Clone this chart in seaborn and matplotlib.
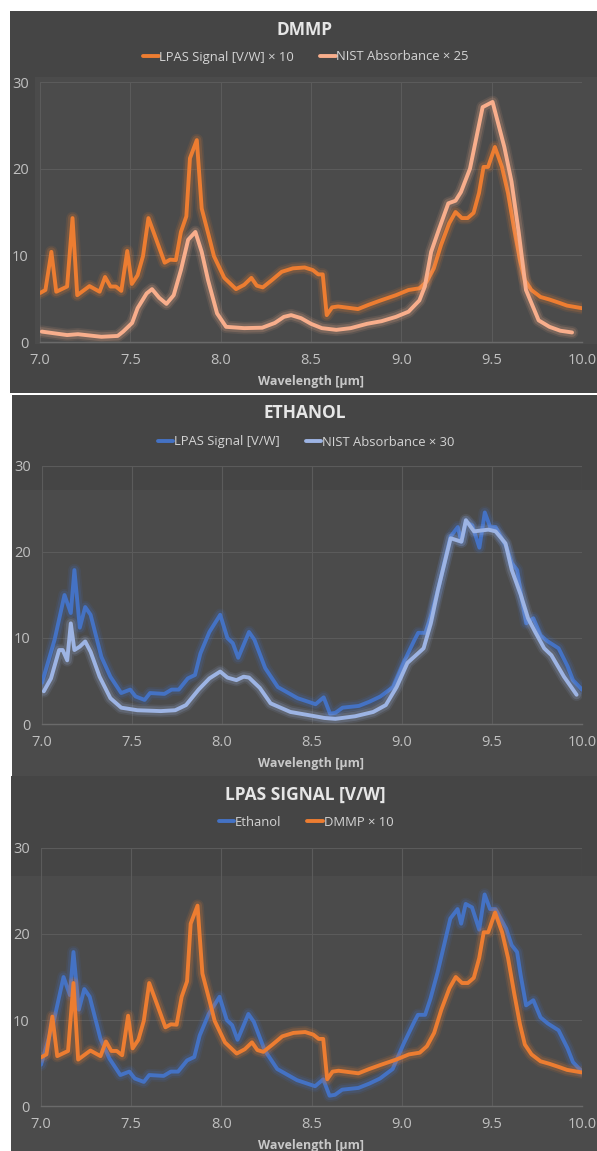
import numpy as np
import pandas as pd
import matplotlib
matplotlib.use('Agg')
import matplotlib.pyplot as plt
from matplotlib.patches import Rectangle
import seaborn as sns

# DMMP LPAS signal x 10
dmmp_lpas_x = [7.00, 7.03, 7.063, 7.09, 7.15, 7.18, 7.206, 7.274, 7.33, 7.36, 7.39, 7.42, 7.45,
               7.483, 7.508, 7.54, 7.57, 7.60, 7.63, 7.69, 7.72, 7.752, 7.78, 7.81, 7.83, 7.868,
               7.895, 7.93, 7.963, 8.02, 8.085, 8.13, 8.17, 8.20, 8.233, 8.284, 8.338, 8.40,
               8.465, 8.51, 8.54, 8.565, 8.587, 8.617, 8.65, 8.76, 8.82, 8.886, 8.97, 9.04,
               9.10, 9.14, 9.18, 9.22, 9.265, 9.30, 9.335, 9.367, 9.40, 9.43, 9.455, 9.48,
               9.518, 9.557, 9.59, 9.624, 9.656, 9.683, 9.72, 9.77, 9.82, 9.877, 9.917, 10.0]
dmmp_lpas_y = [5.65, 6.0, 10.4, 5.8, 6.4, 14.3, 5.4, 6.45, 5.8, 7.5, 6.4, 6.4, 5.9,
               10.5, 6.7, 7.7, 9.9, 14.3, 12.6, 9.15, 9.5, 9.45, 12.7, 14.5, 21.2, 23.3,
               15.4, 12.6, 9.9, 7.4, 6.1, 6.6, 7.4, 6.5, 6.3, 7.15, 8.1, 8.5,
               8.6, 8.3, 7.8, 7.8, 3.1, 4.0, 4.1, 3.8, 4.3, 4.8, 5.4, 6.0,
               6.2, 6.95, 8.5, 11.2, 13.7, 15.0, 14.3, 14.3, 14.9, 17.2, 20.2, 20.2,
               22.5, 20.2, 17.2, 13.1, 9.5, 7.15, 6.0, 5.2, 4.9, 4.5, 4.2, 3.9]

# DMMP NIST absorbance x 25
dmmp_nist_x = [7.01, 7.15, 7.21, 7.34, 7.43, 7.46, 7.51, 7.54, 7.59, 7.62, 7.66, 7.70, 7.74,
               7.78, 7.82, 7.86, 7.895, 7.93, 7.98, 8.03, 8.13, 8.23, 8.30, 8.35, 8.39, 8.445,
               8.50, 8.56, 8.64, 8.72, 8.81, 8.89, 8.97, 9.04, 9.10, 9.13, 9.165, 9.21, 9.26,
               9.30, 9.33, 9.38, 9.45, 9.505, 9.57, 9.61, 9.65, 9.69, 9.76, 9.82, 9.88, 9.945]
dmmp_nist_y = [1.2, 0.8, 0.9, 0.6, 0.7, 1.2, 2.2, 3.9, 5.6, 6.1, 5.1, 4.4, 5.4,
               8.3, 11.8, 12.7, 10.4, 7.15, 3.3, 1.75, 1.6, 1.65, 2.2, 2.9, 3.1, 2.75,
               2.1, 1.6, 1.4, 1.6, 2.1, 2.4, 2.9, 3.5, 4.8, 6.4, 10.4, 13.1, 16.0,
               16.3, 17.3, 20.0, 27.1, 27.7, 22.5, 18.5, 12.6, 6.0, 2.5, 1.75, 1.3, 1.1]

# Ethanol LPAS signal
eth_lpas_x = [7.00, 7.07, 7.125, 7.16, 7.18, 7.21, 7.24, 7.27, 7.33, 7.38, 7.44, 7.49, 7.52,
              7.57, 7.60, 7.68, 7.72, 7.76, 7.81, 7.85, 7.88, 7.93, 7.99, 8.03, 8.06, 8.09,
              8.15, 8.18, 8.24, 8.31, 8.42, 8.52, 8.565, 8.60, 8.63, 8.67, 8.76, 8.82, 8.88,
              8.95, 9.01, 9.07, 9.09, 9.13, 9.16, 9.20, 9.27, 9.31, 9.33, 9.355, 9.39, 9.43,
              9.46, 9.49, 9.52, 9.58, 9.61, 9.64, 9.66, 9.69, 9.73, 9.77, 9.81, 9.87, 9.92,
              9.95, 10.0]
eth_lpas_y = [4.8, 9.8, 15.0, 12.9, 17.9, 11.2, 13.6, 12.7, 7.8, 5.5, 3.6, 4.0, 3.2,
              2.8, 3.6, 3.5, 4.0, 4.0, 5.3, 5.7, 8.2, 10.7, 12.7, 10.0, 9.4, 7.7,
              10.7, 9.8, 6.5, 4.3, 3.0, 2.3, 3.1, 1.2, 1.3, 1.9, 2.1, 2.6, 3.2,
              4.3, 7.2, 9.8, 10.6, 10.6, 12.5, 15.6, 21.8, 22.9, 21.2, 23.5, 23.1, 20.5,
              24.6, 22.9, 22.9, 20.6, 18.7, 17.9, 15.2, 11.7, 12.3, 10.3, 9.6, 8.8, 6.7,
              5.1, 4.0]

# Ethanol NIST absorbance x 30
eth_nist_x = [7.01, 7.05, 7.095, 7.115, 7.14, 7.16, 7.18, 7.21, 7.24, 7.27, 7.32, 7.38, 7.44,
              7.53, 7.66, 7.74, 7.80, 7.87, 7.93, 7.99, 8.03, 8.08, 8.12, 8.15, 8.21, 8.27,
              8.38, 8.49, 8.57, 8.63, 8.74, 8.84, 8.91, 8.97, 9.03, 9.12, 9.16, 9.20, 9.27,
              9.33, 9.355, 9.40, 9.48, 9.52, 9.575, 9.61, 9.66, 9.70, 9.74, 9.79, 9.83, 9.90,
              9.97]
eth_nist_y = [3.8, 5.3, 8.6, 8.6, 7.4, 11.7, 8.6, 9.0, 9.6, 8.4, 5.5, 3.0, 1.9,
              1.6, 1.5, 1.6, 2.2, 4.0, 5.3, 6.1, 5.4, 5.1, 5.5, 5.4, 4.2, 2.4,
              1.4, 1.0, 0.7, 0.6, 0.9, 1.4, 2.2, 4.3, 7.1, 8.8, 11.7, 15.6, 21.6,
              21.2, 23.7, 22.4, 22.6, 22.4, 21.0, 17.9, 15.0, 12.3, 10.7, 8.8, 8.0, 5.5,
              3.4]

titles = ['DMMP', 'ETHANOL', 'LPAS SIGNAL [V/W]']
legend_labels = [['LPAS Signal [V/W] \u00d7 10', 'NIST Absorbance \u00d7 25'],
                 ['LPAS Signal [V/W]', 'NIST Absorbance \u00d7 30'],
                 ['Ethanol', 'DMMP \u00d7 10']]
x_ticks = [7.0, 7.5, 8.0, 8.5, 9.0, 9.5, 10.0]
y_ticks = [0, 10, 20, 30]

# colours
orange = '#ED7D31'
salmon = '#F8AE8C'
blue = '#4472C4'
light_blue = '#9DB4E4'
panel_bg = '#454545'
plot_bg = '#4b4b4b'
grid_col = '#5b5b5b'

sns.set_theme(style='dark')
plt.rcParams['font.family'] = ['Open Sans', 'DejaVu Sans']

W, H = 597, 1151
fig = plt.figure(figsize=(W / 100, H / 100), dpi=100)
fig.patch.set_facecolor('white')


def fig_rect(x0, y0, x1, y1):
    # pixel box (top-left origin) -> figure fraction
    return [x0 / W, 1 - y1 / H, (x1 - x0) / W, (y1 - y0) / H]


def add_box(x0, y0, x1, y1, color):
    r = Rectangle((x0 / W, 1 - y1 / H), (x1 - x0) / W, (y1 - y0) / H,
                  transform=fig.transFigure, facecolor=color, edgecolor='none', zorder=-5)
    fig.patches.append(r)


# panel backgrounds (three stacked screenshots)
add_box(10, 11, 597, 393, panel_bg)
add_box(35, 77, 597, 344, plot_bg)
add_box(12, 395, 597, 776, panel_bg)
add_box(12, 490, 597, 776, plot_bg)
add_box(11, 776, 597, 1151, panel_bg)
add_box(11, 876, 597, 1151, plot_bg)

# plot boxes: (left, top for 30, right, bottom for 0), title y, legend y, xlabel y
layout = [
    (40, 82, 582, 342, 30, 57, 381),
    (42, 466, 582, 724, 413, 442, 763),
    (41, 848, 582, 1106, 795, 822, 1145),
]

series = [
    [(dmmp_lpas_x, dmmp_lpas_y, orange), (dmmp_nist_x, dmmp_nist_y, salmon)],
    [(eth_lpas_x, eth_lpas_y, blue), (eth_nist_x, eth_nist_y, light_blue)],
    [(eth_lpas_x, eth_lpas_y, blue), (dmmp_lpas_x, dmmp_lpas_y, orange)],
]

for i, (x0, y0, x1, y1, ty, ly, xly) in enumerate(layout):
    ax = fig.add_axes(fig_rect(x0, y0, x1, y1))
    ax.set_facecolor('none')
    for j, (xs, ys, col) in enumerate(series[i]):
        df = pd.DataFrame({'x': xs, 'y': ys})
        # soft glow under each line
        for lw, a in [(9, 0.1), (6.5, 0.18)]:
            sns.lineplot(data=df, x='x', y='y', ax=ax, color=col, lw=lw, alpha=a,
                         sort=False, label='_nolegend_', solid_capstyle='round')
        sns.lineplot(data=df, x='x', y='y', ax=ax, color=col, lw=2.8, sort=False,
                     label=legend_labels[i][j], solid_joinstyle='round')
    ax.set_xlim(7.0, 10.0)
    ax.set_ylim(0, 30)
    ax.set_xticks(x_ticks)
    ax.set_xticklabels([f'{t:.1f}' for t in x_ticks])
    ax.set_yticks(y_ticks)
    ax.grid(True, color=grid_col, lw=0.8)
    for s in ['top', 'right', 'left']:
        ax.spines[s].set_visible(False)
    ax.spines['bottom'].set_color('#6a6a6a')
    ax.spines['bottom'].set_linewidth(1.0)
    ax.tick_params(axis='both', colors='#c0c0c0', labelsize=10.5, length=0)
    ax.tick_params(axis='x', pad=8)
    ax.tick_params(axis='y', pad=8)
    ax.set_xlabel('')
    ax.set_ylabel('')
    # title, legend, axis label
    fig.text(305 / W, 1 - ty / H, titles[i], ha='center', va='center',
             fontsize=12.5, fontweight='bold', color='#e6e6e6')
    fig.text(311 / W, 1 - xly / H, 'Wavelength [\u00b5m]', ha='center', va='center',
             fontsize=9, fontweight='bold', color='#c8c8c8')
    leg = ax.legend(loc='center', bbox_to_anchor=(306 / W, 1 - ly / H),
                    bbox_transform=fig.transFigure, ncol=2, frameon=False,
                    handlelength=1.2, handletextpad=0.05, columnspacing=2.0,
                    fontsize=9.4)
    for t in leg.get_texts():
        t.set_color('#d4d4d4')

plt.savefig('out.png', dpi=100, facecolor='white')
